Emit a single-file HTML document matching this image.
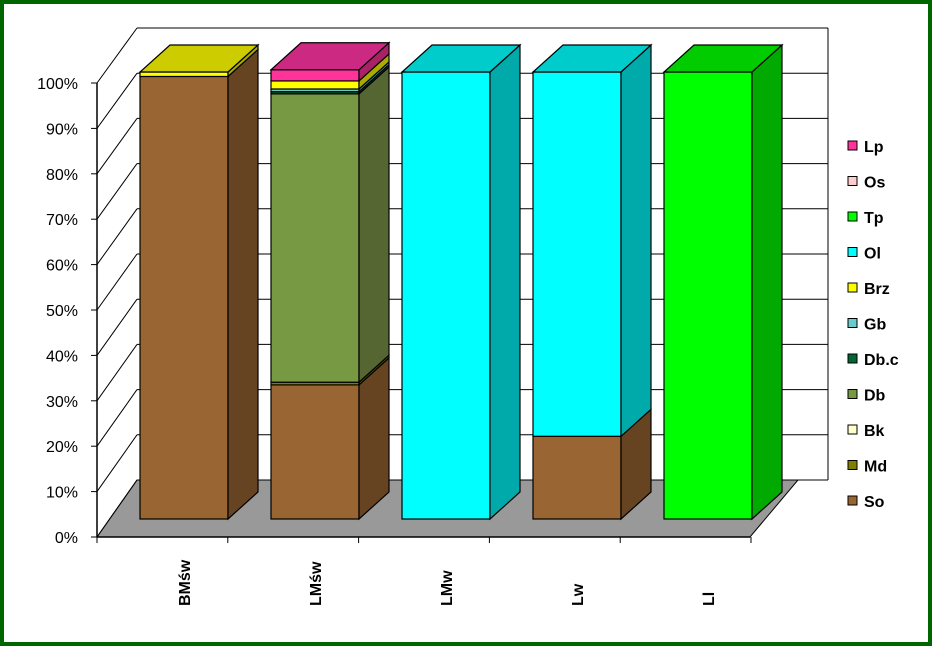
<!DOCTYPE html>
<html><head><meta charset="utf-8"><style>
body{margin:0;background:#fff}
svg{display:block;font-family:"Liberation Sans",Arial,sans-serif}
</style></head><body>
<svg id="c" width="932" height="646" viewBox="0 0 932 646">
<rect x="2" y="2" width="928" height="642" fill="#fff" stroke="#006600" stroke-width="4"/>
<g id="g"></g>
</svg>
<script>
const categories=["BMśw","LMśw","LMw","Lw","Ll"];
const seriesNames=["So","Md","Bk","Db","Db.c","Gb","Brz","Ol","Tp","Os","Lp"];
const So=[99,30,0,18.5,0];
const Md=[0,0.6,0,0,0];
const Bk=[0,0,0,0,0];
const Db=[0,64.5,0,0,0];
const DbC=[0,0.5,0,0,0];
const Gb=[0,0.6,0,0,0];
const Brz=[1,1.8,0,0,0];
const Ol=[0,0,100,81.5,0];
const Tp=[0,0,0,0,100];
const Os=[0,0,0,0,0];
const Lp=[0,2.5,0,0,0];
const tickLabels=["0%","10%","20%","30%","40%","50%","60%","70%","80%","90%","100%"];
const series=[So,Md,Bk,Db,DbC,Gb,Brz,Ol,Tp,Os,Lp];
const colors=["#996633","#808000","#ffffcc","#779944","#006633","#66cccc","#ffff00","#00ffff","#00ff00","#ffcccc","#ff3399"];
const sides=["#664422","#555500","#aaaa88","#556633","#004422","#449999","#aaaa00","#00aaaa","#00aa00","#aa8888","#aa2266"];
const tops=["#885a2c","#707000","#dddcb4","#6a883a","#00552c","#5ab4b4","#cccc00","#00cccc","#00cc00","#ddb4b4","#cc2a82"];
const NS="http://www.w3.org/2000/svg";
const g=document.getElementById('g');
function mk(t,a,p){const e=document.createElementNS(NS,t);for(const k in a)e.setAttribute(k,a[k]);(p||g).appendChild(e);return e;}
const yFront=v=>537-v*4.54;
const yBack=v=>480-v*4.52;
const yBar=v=>519-v*4.47;
const xBar=i=>140+i*131;
const BW=88,DX=30,DY=27;
let e=mk('polygon',{points:"97,537 750,537 798,480 137,480",fill:"#999999",stroke:"#000","stroke-width":1});

for(let k=0;k<=10;k++){
  const v=k*10;
  e=mk('line',{x1:137,y1:yBack(v),x2:828,y2:yBack(v),stroke:"#000","stroke-width":1});
  
  e=mk('line',{x1:97,y1:yFront(v),x2:137,y2:yBack(v),stroke:"#000","stroke-width":1});
  
  e=mk('line',{x1:91,y1:yFront(v),x2:97,y2:yFront(v),stroke:"#000"});
  
  e=mk('text',{x:78,y:yFront(v)+6,"text-anchor":"end","font-size":16});
  e.textContent=tickLabels[k];
  
}
e=mk('line',{x1:97,y1:yFront(100),x2:97,y2:537,stroke:"#000","stroke-width":1.5});

e=mk('line',{x1:828,y1:yBack(100),x2:828,y2:480,stroke:"#000"});

e=mk('line',{x1:97,y1:537,x2:750,y2:537,stroke:"#000","stroke-width":1.5});

for(let k=0;k<=categories.length;k++){
  const xt=97+k*130.8;
  let t=mk('line',{x1:xt,y1:537,x2:xt,y2:543,stroke:"#000"});
  
}
categories.forEach((c,i)=>{
  const x=xBar(i);let cum=0;let topIdx=-1;
  series.forEach((s,j)=>{if(s[i]>0)topIdx=j;});
  series.forEach((s,j)=>{
    const v=s[i];if(v<=0)return;
    const yb=yBar(cum),yt=yBar(cum+v);cum+=v;
    let r=mk('rect',{x:x,y:yt,width:BW,height:yb-yt,fill:colors[j],stroke:"#000","stroke-width":1.2});
    
    
    let sd=mk('polygon',{points:`${x+BW},${yb} ${x+BW},${yt} ${x+BW+DX},${yt-DY} ${x+BW+DX},${yb-DY}`,fill:sides[j],stroke:"#000","stroke-width":1.2});
    
    
    if(j===topIdx){
      let tp=mk('polygon',{points:`${x},${yt} ${x+BW},${yt} ${x+BW+DX},${yt-DY} ${x+DX},${yt-DY}`,fill:tops[j],stroke:"#000","stroke-width":1.2});
      
      
    }
  });
  let lb=mk('text',{x:0,y:0,"font-size":16,"font-weight":"bold",transform:`translate(${x+BW/2+6},606) rotate(-90)`});
  lb.textContent=c;
  
  
});
for(let j=seriesNames.length-1,r=0;j>=0;j--,r++){
  const y=146+r*35.5;
  let s=mk('rect',{x:848,y:y-5,width:9,height:9,fill:colors[j],stroke:"#000","stroke-width":1});
  
  let t=mk('text',{x:864,y:y+6,"font-size":16,"font-weight":"bold"});
  t.textContent=seriesNames[j];
  
}
</script>
</body></html>
